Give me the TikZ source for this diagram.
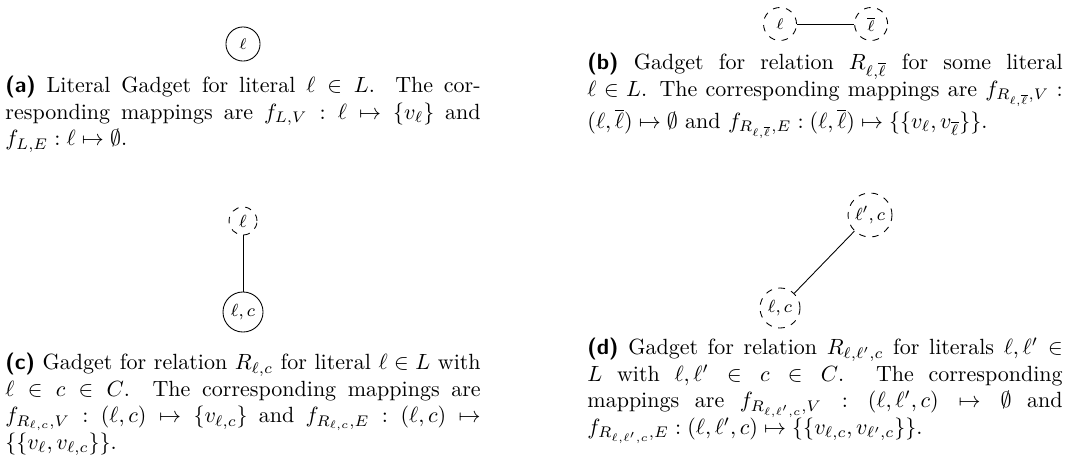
\documentclass[tikz,border=0pt]{standalone}
\usepackage{amsmath,amssymb}
\usetikzlibrary{positioning}

\begin{document}
\begin{tikzpicture}[
  x=0.4545pt, y=-0.4545pt,
  vtx/.style={circle, draw, inner sep=0pt},
  vtxd/.style={vtx, dashed},
  link/.style={draw},
  capt/.style={text width=216pt, align=justify, inner sep=0pt, anchor=north west},
]
\useasboundingbox (0,0) rectangle (1073,455);

% (a) literal gadget
\node[vtx, minimum size=15.5pt, font=\scriptsize] (lit) at (243,44) {$\ell$};
\node[capt] (capa) at (5,76) {\textsf{\textbf{(a)}} Literal Gadget for literal $\ell \in L$. The corresponding mappings are $f_{L,V} : \ell \mapsto \{v_\ell\}$ and $f_{L,E} : \ell \mapsto \emptyset$.};

% (b) relation between a literal and its negation
\node[vtxd, minimum size=15pt, font=\scriptsize] (pos) at (780,24) {$\ell$};
\node[vtxd, minimum size=15pt, font=\scriptsize, right=26pt of pos] (neg) {$\overline{\ell}$};
\draw[link] (pos) -- (neg);
\node[capt] (capb) at (587,53) {\textsf{\textbf{(b)}} Gadget for relation $R_{\ell,\overline{\ell}}$ for some literal\linebreak $\ell \in L$. The corresponding mappings are $f_{R_{\ell,\overline{\ell}},V} :$\linebreak $(\ell,\overline{\ell}) \mapsto \emptyset$ and $f_{R_{\ell,\overline{\ell}},E} : (\ell,\overline{\ell}) \mapsto \{\{v_\ell, v_{\overline{\ell}}\}\}$.};

% (c) literal inside a clause
\node[vtxd, minimum size=12.7pt, font=\footnotesize] (cl) at (243,221) {$\ell$};
\node[vtx, minimum size=18.2pt, font=\footnotesize] (clc) at (243,312) {$\ell,c$};
\draw[link] (cl) -- (clc);
\node[capt] (capc) at (5,353) {\textsf{\textbf{(c)}} Gadget for relation $R_{\ell,c}$ for literal $\ell \in L$ with $\ell \in c \in C$. The corresponding mappings are $f_{R_{\ell,c},V} : (\ell,c) \mapsto \{v_{\ell,c}\}$ and $f_{R_{\ell,c},E} : (\ell,c) \mapsto \{\{v_\ell, v_{\ell,c}\}\}$.};

% (d) two literals of the same clause
\node[vtxd, minimum size=18.2pt, font=\footnotesize] (dlc) at (780,308) {$\ell,c$};
\node[vtxd, minimum size=20pt, font=\footnotesize] (dpc) at (870,215) {$\ell',c$};
\draw[link] (dlc) -- (dpc);
\node[capt] (capd) at (587,338) {\textsf{\textbf{(d)}} Gadget for relation $R_{\ell,\ell',c}$ for literals $\ell,\ell' \in$\linebreak $L$ with $\ell,\ell' \in c \in C$. The corresponding\linebreak mappings are $f_{R_{\ell,\ell',c},V} : (\ell,\ell',c) \mapsto \emptyset$ and\linebreak $f_{R_{\ell,\ell',c},E} : (\ell,\ell',c) \mapsto \{\{v_{\ell,c}, v_{\ell',c}\}\}$.};

\end{tikzpicture}
\end{document}
